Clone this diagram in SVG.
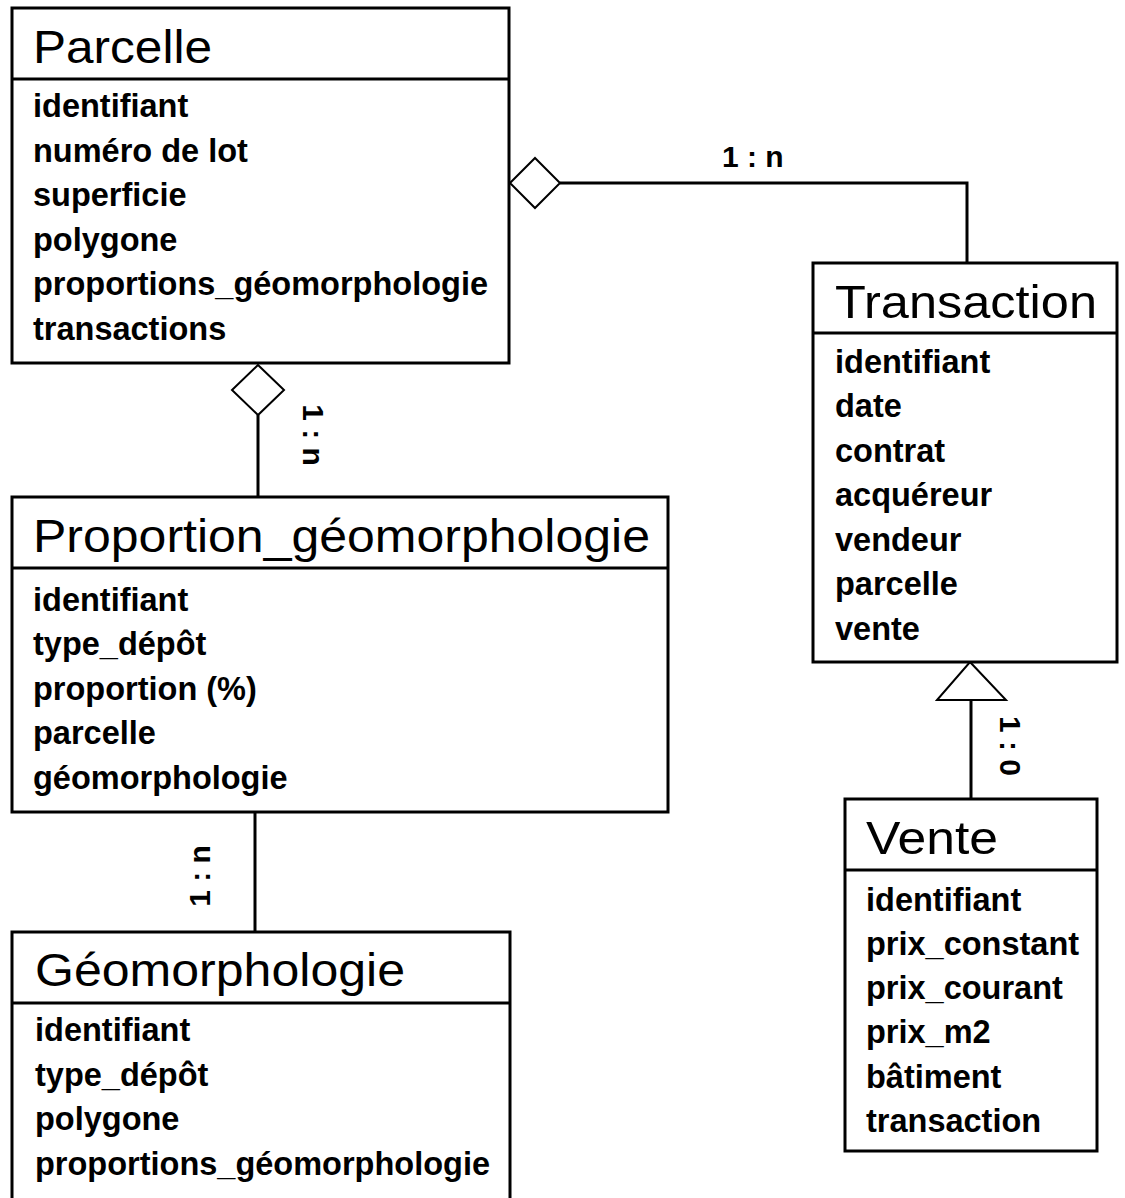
<svg xmlns="http://www.w3.org/2000/svg" width="1125" height="1198" viewBox="0 0 1125 1198">
<style>
.box{fill:#fff;stroke:#000;stroke-width:3}
.sep{stroke:#000;stroke-width:3}
.title{font-family:"Liberation Sans",Arial,sans-serif;font-size:46px;fill:#000}
.attr{font-family:"Liberation Sans",Arial,sans-serif;font-size:32.5px;font-weight:bold;fill:#000}
.lbl{font-family:"Liberation Sans",Arial,sans-serif;font-size:30px;font-weight:bold;fill:#000}
.conn{fill:none;stroke:#000;stroke-width:3}
.sym{fill:#fff;stroke:#000;stroke-width:2}
</style>
<rect width="1125" height="1198" fill="#fff"/>
<g id="connectors">
<polyline class="conn" points="560,183 967,183 967,263"/>
<polygon class="sym" points="510,183 535,158 560,183 535,208"/>
<text class="lbl" x="722" y="167">1 : n</text>
<line class="conn" x1="258" y1="415" x2="258" y2="497"/>
<polygon class="sym" points="258,365 284,390 258,415 232,390"/>
<text class="lbl" transform="translate(303,435) rotate(90)" text-anchor="middle">1 : n</text>
<line class="conn" x1="255" y1="812" x2="255" y2="932"/>
<text class="lbl" transform="translate(210,876) rotate(-90)" text-anchor="middle">1 : n</text>
<line class="conn" x1="971" y1="700" x2="971" y2="799"/>
<polygon class="sym" points="970,662 1006,700 937,700"/>
<text class="lbl" transform="translate(1000,746) rotate(90)" text-anchor="middle">1 : 0</text>
</g>
<g id="parcelle">
<rect class="box" x="12" y="8" width="497" height="355"/>
<line class="sep" x1="12" y1="79" x2="509" y2="79"/>
<text class="title" x="33" y="63" textLength="179" lengthAdjust="spacingAndGlyphs">Parcelle</text>
<text class="attr" x="33" y="117">identifiant</text>
<text class="attr" x="33" y="162">numéro de lot</text>
<text class="attr" x="33" y="206">superficie</text>
<text class="attr" x="33" y="251">polygone</text>
<text class="attr" x="33" y="295">proportions_géomorphologie</text>
<text class="attr" x="33" y="340">transactions</text>
</g>
<g id="transaction">
<rect class="box" x="813" y="263" width="304" height="399"/>
<line class="sep" x1="813" y1="333" x2="1117" y2="333"/>
<text class="title" x="835" y="318" textLength="262" lengthAdjust="spacingAndGlyphs">Transaction</text>
<text class="attr" x="835" y="373">identifiant</text>
<text class="attr" x="835" y="417">date</text>
<text class="attr" x="835" y="462">contrat</text>
<text class="attr" x="835" y="506">acquéreur</text>
<text class="attr" x="835" y="551">vendeur</text>
<text class="attr" x="835" y="595">parcelle</text>
<text class="attr" x="835" y="640">vente</text>
</g>
<g id="proportion_geomorphologie">
<rect class="box" x="12" y="497" width="656" height="315"/>
<line class="sep" x1="12" y1="568" x2="668" y2="568"/>
<text class="title" x="33" y="552" textLength="617" lengthAdjust="spacingAndGlyphs">Proportion_géomorphologie</text>
<text class="attr" x="33" y="611">identifiant</text>
<text class="attr" x="33" y="655">type_dépôt</text>
<text class="attr" x="33" y="700">proportion (%)</text>
<text class="attr" x="33" y="744">parcelle</text>
<text class="attr" x="33" y="789">géomorphologie</text>
</g>
<g id="geomorphologie">
<rect class="box" x="12" y="932" width="498" height="290"/>
<line class="sep" x1="12" y1="1003" x2="510" y2="1003"/>
<text class="title" x="35" y="986" textLength="370" lengthAdjust="spacingAndGlyphs">Géomorphologie</text>
<text class="attr" x="35" y="1041">identifiant</text>
<text class="attr" x="35" y="1086">type_dépôt</text>
<text class="attr" x="35" y="1130">polygone</text>
<text class="attr" x="35" y="1175">proportions_géomorphologie</text>
</g>
<g id="vente">
<rect class="box" x="845" y="799" width="252" height="352"/>
<line class="sep" x1="845" y1="870" x2="1097" y2="870"/>
<text class="title" x="866" y="854" textLength="132" lengthAdjust="spacingAndGlyphs">Vente</text>
<text class="attr" x="866" y="911">identifiant</text>
<text class="attr" x="866" y="955">prix_constant</text>
<text class="attr" x="866" y="999">prix_courant</text>
<text class="attr" x="866" y="1043">prix_m2</text>
<text class="attr" x="866" y="1088">bâtiment</text>
<text class="attr" x="866" y="1132">transaction</text>
</g>
</svg>
